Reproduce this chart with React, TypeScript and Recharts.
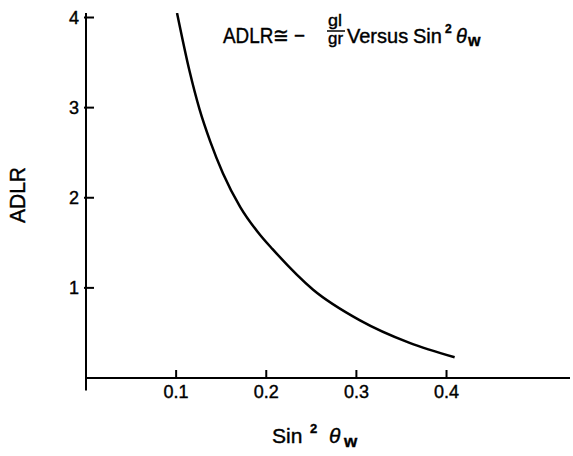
import React from 'react';
import { LineChart, Line, XAxis, YAxis, ReferenceLine } from 'recharts';

// sin^2(theta_W) along the curve and the matching ADLR values
const SIN2_THETA = [0.101, 0.115, 0.126, 0.138, 0.152, 0.171, 0.193, 0.207, 0.252, 0.304, 0.359, 0.409];
const ADLR = [4.05, 3.4, 2.98, 2.62, 2.27, 1.9, 1.59, 1.43, 0.98, 0.64, 0.39, 0.23];
const X_TICKS = [0.1, 0.2, 0.3, 0.4];
const Y_TICKS = [1, 2, 3, 4];

const data = SIN2_THETA.map((s, i) => ({ s, adlr: ADLR[i] }));

const FONT = '"Liberation Sans", Arial, sans-serif';

const XTick = (props: any) => {
  const { x, y, payload } = props;
  return (
    <g>
      <line x1={x} x2={x} y1={y} y2={y - 8} stroke="#000" strokeWidth={2} />
      <text x={x} y={y + 20} textAnchor="middle" fontSize={18} fontFamily={FONT} fill="#000" stroke="#000" strokeWidth={0.4}>
        {payload.value.toFixed(1)}
      </text>
    </g>
  );
};

const YTick = (props: any) => {
  const { x, y, payload } = props;
  return (
    <g>
      <line x1={x - 2} x2={x + 8} y1={y} y2={y} stroke="#000" strokeWidth={2} />
      <text x={x - 7} y={y + 6} textAnchor="end" fontSize={18} fontFamily={FONT} fill="#000" stroke="#000" strokeWidth={0.4}>
        {payload.value}
      </text>
    </g>
  );
};

const Overlay = () => (
  <svg
    width={573}
    height={456}
    style={{ position: 'absolute', left: 0, top: 0, pointerEvents: 'none' }}
    fontFamily={FONT}
    fill="#000"
    stroke="#000"
    strokeWidth={0.4}
  >
    {/* title: ADLR ≅ − gl/gr Versus Sin² θw */}
    <text x={223} y={43} fontSize={22} textLength={82} lengthAdjust="spacingAndGlyphs">ADLR≅ −</text>
    <text x={328} y={26} fontSize={17} textLength={14} lengthAdjust="spacingAndGlyphs">gl</text>
    <line x1={327} x2={345} y1={31} y2={31} stroke="#000" strokeWidth={1.5} />
    <text x={328} y={44} fontSize={17} textLength={15} lengthAdjust="spacingAndGlyphs">gr</text>
    <text x={347} y={43} fontSize={20}>
      <tspan x={347}>Versus</tspan>
      <tspan x={413}>Sin</tspan>
      <tspan x={445} y={33} fontSize={12} fontWeight="bold">2</tspan>
      <tspan x={456} y={43} fontStyle="italic">θ</tspan>
      <tspan x={468} y={46} fontSize={16} fontWeight="bold">w</tspan>
    </text>

    {/* y axis title */}
    <text
      x={0}
      y={0}
      fontSize={22}
      textAnchor="middle"
      textLength={56}
      lengthAdjust="spacingAndGlyphs"
      transform="translate(25 195) rotate(-90)"
    >
      ADLR
    </text>

    {/* x axis title */}
    <text x={272} y={443} fontSize={21}>
      <tspan x={272}>Sin</tspan>
      <tspan x={310} y={433} fontSize={13} fontWeight="bold">2</tspan>
      <tspan x={329} y={443} fontStyle="italic">θ</tspan>
      <tspan x={344} y={447} fontSize={17} fontWeight="bold">w</tspan>
    </text>
  </svg>
);

export default function App() {
  return (
    <div style={{ position: 'relative', width: 573, height: 456, background: '#fff' }}>
      <style>{'body{margin:0}'}</style>
      <LineChart width={573} height={456} data={data} margin={{ top: 13, right: 3, bottom: 77, left: 85 }}>
        <XAxis
          dataKey="s"
          type="number"
          domain={[0, 0.537]}
          ticks={X_TICKS}
          height={1}
          tickSize={0}
          tickMargin={0}
          tick={<XTick />}
          axisLine={{ stroke: '#000', strokeWidth: 2 }}
          tickLine={false}
          allowDataOverflow
        />
        <YAxis
          type="number"
          domain={[0, 4.05]}
          ticks={Y_TICKS}
          width={1}
          tickSize={0}
          tickMargin={0}
          tick={<YTick />}
          axisLine={{ stroke: '#000', strokeWidth: 2 }}
          tickLine={false}
          allowDataOverflow
        />
        <ReferenceLine
          segment={[{ x: 0, y: 0 }, { x: 0, y: -0.14 }]}
          stroke="#000"
          strokeWidth={2}
          ifOverflow="visible"
        />
        <Line
          type="monotone"
          dataKey="adlr"
          stroke="#000"
          strokeWidth={2.5}
          dot={false}
          isAnimationActive={false}
        />
      </LineChart>
      <Overlay />
    </div>
  );
}
